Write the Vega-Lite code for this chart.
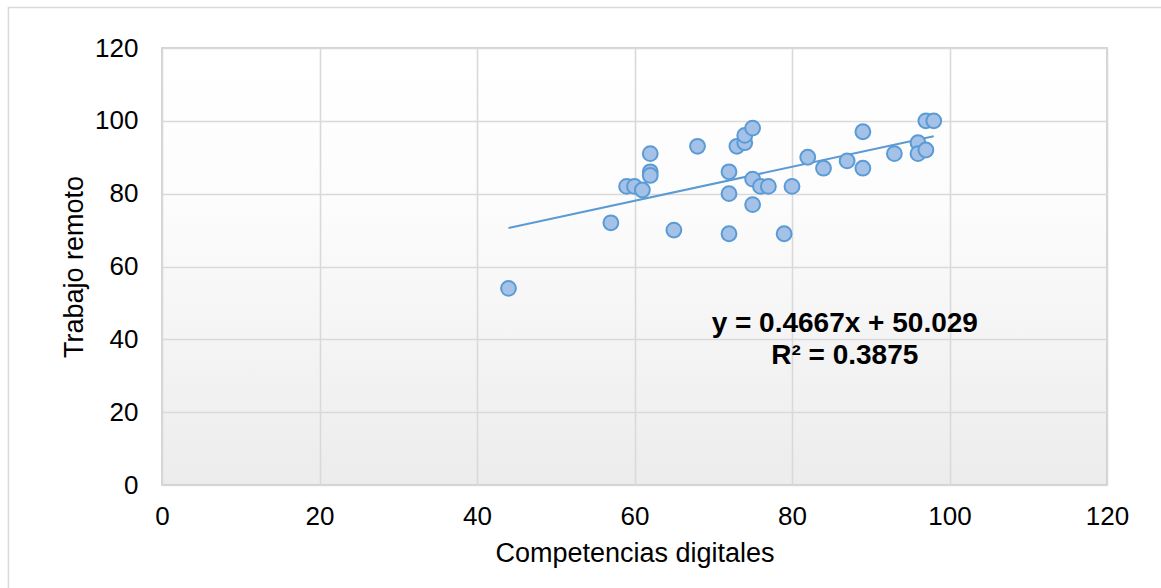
{
  "$schema": "https://vega.github.io/schema/vega-lite/v6.json",
  "width": 945,
  "height": 437,
  "autosize": {"type": "none"},
  "padding": {"left": 162, "top": 48, "right": 54, "bottom": 103},
  "background": "#ffffff",
  "config": {
    "font": "Liberation Sans",
    "view": {
      "stroke": "#c4c4c4",
      "strokeWidth": 1.5,
      "fill": {
        "gradient": "linear",
        "x1": 0, "y1": 0, "x2": 0, "y2": 1,
        "stops": [
          {"offset": 0, "color": "#ffffff"},
          {"offset": 0.35, "color": "#fcfcfc"},
          {"offset": 1, "color": "#ececec"}
        ]
      }
    },
    "axis": {
      "domain": false,
      "ticks": false,
      "grid": true,
      "gridColor": "#d9d9d9",
      "gridWidth": 1.6,
      "labelFont": "Liberation Sans",
      "labelFontSize": 26,
      "labelColor": "#000000",
      "labelFlush": false,
      "titleFont": "Liberation Sans",
      "titleFontSize": 27,
      "titleFontWeight": "normal",
      "titleColor": "#000000"
    }
  },
  "datasets": {
    "points": [
      {"competencias": 44, "trabajo": 54},
      {"competencias": 57, "trabajo": 72},
      {"competencias": 59, "trabajo": 82},
      {"competencias": 60, "trabajo": 82},
      {"competencias": 61, "trabajo": 81},
      {"competencias": 62, "trabajo": 91},
      {"competencias": 62, "trabajo": 86},
      {"competencias": 62, "trabajo": 85},
      {"competencias": 65, "trabajo": 70},
      {"competencias": 68, "trabajo": 93},
      {"competencias": 72, "trabajo": 86},
      {"competencias": 72, "trabajo": 80},
      {"competencias": 72, "trabajo": 69},
      {"competencias": 73, "trabajo": 93},
      {"competencias": 74, "trabajo": 94},
      {"competencias": 74, "trabajo": 96},
      {"competencias": 75, "trabajo": 98},
      {"competencias": 75, "trabajo": 84},
      {"competencias": 75, "trabajo": 77},
      {"competencias": 76, "trabajo": 82},
      {"competencias": 77, "trabajo": 82},
      {"competencias": 79, "trabajo": 69},
      {"competencias": 80, "trabajo": 82},
      {"competencias": 82, "trabajo": 90},
      {"competencias": 84, "trabajo": 87},
      {"competencias": 87, "trabajo": 89},
      {"competencias": 89, "trabajo": 97},
      {"competencias": 89, "trabajo": 87},
      {"competencias": 93, "trabajo": 91},
      {"competencias": 96, "trabajo": 94},
      {"competencias": 96, "trabajo": 91},
      {"competencias": 97, "trabajo": 92},
      {"competencias": 97, "trabajo": 100},
      {"competencias": 98, "trabajo": 100}
    ],
    "notes": [
      {"eq": "y = 0.4667x + 50.029\nR² = 0.3875"}
    ]
  },
  "layer": [
    {
      "data": {"name": "notes"},
      "mark": {"type": "rect", "fill": null, "stroke": "#d9d9d9", "strokeWidth": 1.5, "clip": false},
      "encoding": {
        "x": {"datum": -19.5, "type": "quantitative", "scale": {"domain": [0, 120], "nice": false}},
        "x2": {"datum": 135},
        "y": {"datum": 131.1, "type": "quantitative", "scale": {"domain": [0, 120], "nice": false}},
        "y2": {"datum": -30}
      }
    },
    {
      "data": {"name": "points"},
      "transform": [{"regression": "trabajo", "on": "competencias"}],
      "mark": {"type": "line", "color": "#5b9bd5", "strokeWidth": 2},
      "encoding": {
        "x": {"field": "competencias", "type": "quantitative"},
        "y": {"field": "trabajo", "type": "quantitative"}
      }
    },
    {
      "data": {"name": "points"},
      "mark": {"type": "circle", "size": 220, "fill": "#a4c1e8", "stroke": "#5b9bd5", "strokeWidth": 2, "opacity": 1},
      "encoding": {
        "x": {
          "field": "competencias",
          "type": "quantitative",
          "title": "Competencias digitales",
          "scale": {"domain": [0, 120], "nice": false},
          "axis": {"values": [0, 20, 40, 60, 80, 100, 120], "labelPadding": 18, "titleBaseline": "alphabetic", "titleY": 76}
        },
        "y": {
          "field": "trabajo",
          "type": "quantitative",
          "title": "Trabajo remoto",
          "scale": {"domain": [0, 120], "nice": false},
          "axis": {"values": [0, 20, 40, 60, 80, 100, 120], "labelPadding": 24, "titleBaseline": "alphabetic", "titleX": -80}
        }
      }
    },
    {
      "data": {"name": "notes"},
      "mark": {"type": "text", "fontSize": 28, "fontWeight": "bold", "align": "center", "baseline": "alphabetic", "lineHeight": 32, "lineBreak": "\n", "color": "#000000", "font": "Liberation Sans"},
      "encoding": {
        "x": {"datum": 86.7, "type": "quantitative"},
        "y": {"datum": 42.1, "type": "quantitative"},
        "text": {"field": "eq", "type": "nominal"}
      }
    }
  ]
}
